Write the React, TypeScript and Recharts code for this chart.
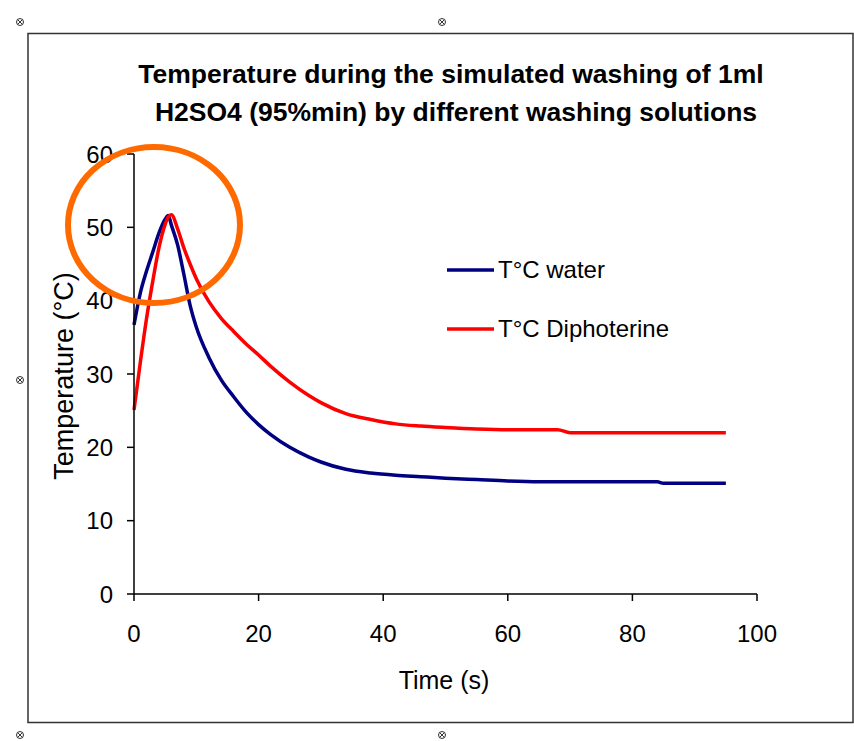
import { LineChart, Line, XAxis, YAxis, Legend } from 'recharts'

// time in seconds
const time = [
  0, 1, 2, 3, 4, 5, 5.5, 6, 7, 8, 9, 10, 12, 14, 16, 18, 20, 22, 25, 28, 30, 34, 38, 42, 46, 50,
  55, 60, 65, 68, 70, 75, 80, 84, 85, 90, 95,
]
const water = [
  36.7, 41.0, 44.0, 46.6, 49.2, 51.1, 51.6, 50.3, 47.6, 43.6, 39.4, 36.4, 32.3, 29.2, 26.9, 24.8,
  23.1, 21.7, 20.0, 18.7, 18.0, 17.0, 16.5, 16.2, 16.0, 15.8, 15.6, 15.4, 15.3, 15.3, 15.3, 15.3,
  15.3, 15.3, 15.1, 15.1, 15.1,
]
const diphoterine = [
  25.1, 31.5, 37.5, 42.6, 47.2, 50.4, 51.4, 51.7, 49.8, 47.2, 45.0, 43.0, 39.9, 37.6, 35.8, 34.1,
  32.6, 31.0, 28.9, 27.1, 26.1, 24.6, 23.8, 23.2, 22.9, 22.7, 22.5, 22.4, 22.4, 22.4, 22.0, 22.0,
  22.0, 22.0, 22.0, 22.0, 22.0,
]
const seriesNames = ['T°C water', 'T°C Diphoterine']
const xTicks = [0, 20, 40, 60, 80, 100]
const yTicks = [0, 10, 20, 30, 40, 50, 60]

const data = time.map((t, i) => ({ t, water: water[i], diph: diphoterine[i] }))

const FONT = '"Liberation Sans", Arial, sans-serif'

// little excel selection handles
const handles = [
  [20, 22],
  [442, 22],
  [20, 380],
  [20, 735],
  [442, 735],
]

function LegendBox({ payload }: any) {
  const items = [...(payload || [])].sort(
    (a: any, b: any) => seriesNames.indexOf(a.value) - seriesNames.indexOf(b.value)
  )
  return (
    <div>
      {items.map((p: any) => (
        <div key={p.value} style={{ display: 'flex', alignItems: 'center', height: 59 }}>
          <svg width={50} height={10}>
            <line x1={0} x2={47} y1={5} y2={5} stroke={p.color} strokeWidth={3.5} />
          </svg>
          <span style={{ fontFamily: FONT, fontSize: 24, color: '#000', marginLeft: 1 }}>
            {p.value}
          </span>
        </div>
      ))}
    </div>
  )
}

export default function App() {
  const tick = { fill: '#000', fontSize: 24, fontFamily: FONT }
  return (
    <div style={{ position: 'absolute', left: 0, top: 0, width: 854, height: 741, background: '#fff' }}>
      <LineChart
        width={854}
        height={741}
        data={data}
        margin={{ top: 154, right: 97, bottom: 107, left: 74 }}
      >
        <XAxis
          dataKey="t"
          type="number"
          domain={[0, 100]}
          ticks={xTicks}
          height={40}
          tick={tick}
          tickSize={7}
          tickMargin={24}
          axisLine={{ stroke: '#000', strokeWidth: 1.5 }}
          tickLine={{ stroke: '#000', strokeWidth: 1.5 }}
        />
        <YAxis
          type="number"
          domain={[0, 60]}
          ticks={yTicks}
          width={60}
          tick={tick}
          tickSize={7}
          tickMargin={14}
          axisLine={{ stroke: '#000', strokeWidth: 1.5 }}
          tickLine={{ stroke: '#000', strokeWidth: 1.5 }}
        />
        <Legend
          layout="vertical"
          align="center"
          verticalAlign="middle"
          content={<LegendBox />}
          wrapperStyle={{ left: 447, top: 240, width: 260 }}
        />
        <Line
          type="monotone"
          dataKey="water"
          name={seriesNames[0]}
          stroke="#000080"
          strokeWidth={3.5}
          dot={false}
          isAnimationActive={false}
        />
        <Line
          type="monotone"
          dataKey="diph"
          name={seriesNames[1]}
          stroke="#ff0000"
          strokeWidth={3.5}
          dot={false}
          isAnimationActive={false}
        />
      </LineChart>

      <svg
        width={854}
        height={741}
        style={{ position: 'absolute', left: 0, top: 0, pointerEvents: 'none' }}
      >
        <rect x={28} y={33.5} width={825} height={689} fill="none" stroke="#333" strokeWidth={1.5} />
        {handles.map(([x, y]) => (
          <g key={`${x}-${y}`} stroke="#333" strokeWidth={1} fill="#fff">
            <circle cx={x} cy={y} r={3.5} />
            <line x1={x - 2.3} y1={y - 2.3} x2={x + 2.3} y2={y + 2.3} />
            <line x1={x - 2.3} y1={y + 2.3} x2={x + 2.3} y2={y - 2.3} />
          </g>
        ))}
        <text
          x={451}
          textAnchor="middle"
          fontFamily={FONT}
          fontWeight="bold"
          fontSize={26.5}
          fill="#000"
        >
          <tspan x={451} y={83}>Temperature during the simulated washing of 1ml</tspan>
          <tspan x={456} y={121}>H2SO4 (95%min) by different washing solutions</tspan>
        </text>
        <text x={444} y={689} textAnchor="middle" fontFamily={FONT} fontSize={25} fill="#000">
          Time (s)
        </text>
        <text
          x={73}
          y={376}
          textAnchor="middle"
          fontFamily={FONT}
          fontSize={27}
          fill="#000"
          transform="rotate(-90 73 376)"
        >
          Temperature (°C)
        </text>
        <ellipse cx={154} cy={225} rx={86} ry={78} fill="none" stroke="#ff6a00" strokeWidth={6} />
      </svg>
    </div>
  )
}
